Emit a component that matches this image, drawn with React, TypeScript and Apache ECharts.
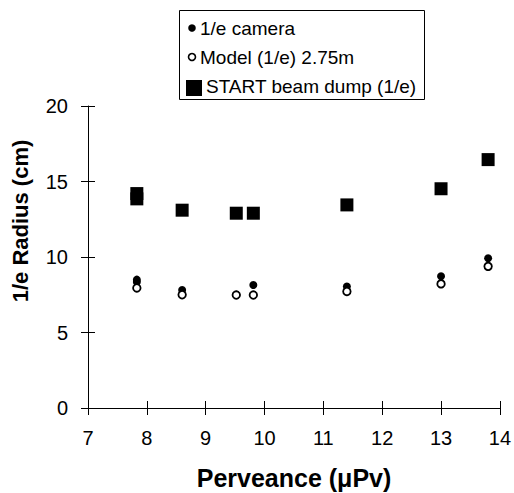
import React, { useEffect, useRef } from "react";
import * as echarts from "echarts";

const seriesNames = ["1/e camera", "Model (1/e) 2.75m", "START beam dump (1/e)"];

const cameraX = [7.83, 7.83, 8.6, 9.52, 9.81, 11.4, 13.0, 13.8];
const cameraY = [8.5, 8.35, 7.82, 7.5, 8.15, 8.05, 8.72, 9.92];

const modelX = [7.83, 8.6, 9.52, 9.81, 11.4, 13.0, 13.8];
const modelY = [7.95, 7.5, 7.48, 7.48, 7.72, 8.22, 9.38];

const startX = [7.83, 7.83, 8.6, 9.52, 9.81, 11.4, 13.0, 13.8];
const startY = [14.2, 13.85, 13.1, 12.9, 12.9, 13.45, 14.52, 16.45];

const xTitle = "Perveance (\u03bcPv)";
const yTitle = "1/e Radius (cm)";

const FONT = "Liberation Sans, Arial, Helvetica, sans-serif";

const zip = (xs: number[], ys: number[]) => xs.map((x, i) => [x, ys[i]]);

export default function App() {
  const ref = useRef<HTMLDivElement>(null);
  useEffect(() => {
    if (!ref.current) return;
    const chart = echarts.init(ref.current, null, { renderer: "svg" });
    const axisBase = {
      axisLine: { show: true, lineStyle: { color: "#000", width: 1 } },
      splitLine: { show: false },
    };
    chart.setOption({
      animation: false,
      backgroundColor: "#fff",
      grid: { left: 88, right: 14, top: 106, bottom: 85 },
      xAxis: [
        {
          type: "value",
          min: 7,
          max: 14,
          interval: 1,
          ...axisBase,
          axisTick: { show: true, inside: false, length: 7, lineStyle: { color: "#000" } },
          axisLabel: { color: "#000", fontSize: 20, fontFamily: FONT, margin: 20 },
        },
        {
          type: "value",
          min: 7,
          max: 14,
          interval: 1,
          position: "bottom",
          axisLine: { show: false },
          splitLine: { show: false },
          axisTick: { show: true, inside: true, length: 7, lineStyle: { color: "#000" } },
          axisLabel: { show: false },
        },
      ],
      yAxis: [
        {
          type: "value",
          min: 0,
          max: 20,
          interval: 5,
          ...axisBase,
          axisTick: { show: true, inside: false, length: 7, lineStyle: { color: "#000" } },
          axisLabel: { color: "#000", fontSize: 20, fontFamily: FONT, margin: 20 },
        },
        {
          type: "value",
          min: 0,
          max: 20,
          interval: 5,
          position: "left",
          axisLine: { show: false },
          splitLine: { show: false },
          axisTick: { show: true, inside: true, length: 7, lineStyle: { color: "#000" } },
          axisLabel: { show: false },
        },
      ],
      series: [
        {
          name: seriesNames[0],
          type: "scatter",
          data: zip(cameraX, cameraY),
          symbol: "circle",
          symbolSize: 8,
          itemStyle: { color: "#000", opacity: 1 },
          z: 2,
        },
        {
          name: seriesNames[1],
          type: "scatter",
          data: zip(modelX, modelY),
          symbol: "circle",
          symbolSize: 7.5,
          itemStyle: { color: "#fff", borderColor: "#000", borderWidth: 1.8, opacity: 1 },
          z: 3,
        },
        {
          name: seriesNames[2],
          type: "scatter",
          data: zip(startX, startY),
          symbol: "rect",
          symbolSize: 13,
          itemStyle: { color: "#000", opacity: 1 },
          z: 4,
        },
      ],
      graphic: [
        {
          type: "rect",
          shape: { x: 179.5, y: 10.5, width: 245, height: 89 },
          style: { fill: "#fff", stroke: "#000", lineWidth: 1 },
          z: 10,
        },
        {
          type: "circle",
          shape: { cx: 192, cy: 28, r: 3.8 },
          style: { fill: "#000" },
          z: 11,
        },
        {
          type: "circle",
          shape: { cx: 192, cy: 57, r: 3.5 },
          style: { fill: "#fff", stroke: "#000", lineWidth: 1.6 },
          z: 11,
        },
        {
          type: "rect",
          shape: { x: 186, y: 80, width: 16, height: 16 },
          style: { fill: "#000" },
          z: 11,
        },
        {
          type: "text",
          x: 200,
          y: 28,
          style: { text: seriesNames[0], font: `19px ${FONT}`, fill: "#000", verticalAlign: "middle" },
          z: 11,
        },
        {
          type: "text",
          x: 200,
          y: 57,
          style: { text: seriesNames[1], font: `19px ${FONT}`, fill: "#000", verticalAlign: "middle" },
          z: 11,
        },
        {
          type: "text",
          x: 206,
          y: 86,
          style: { text: seriesNames[2], font: `19px ${FONT}`, fill: "#000", verticalAlign: "middle" },
          z: 11,
        },
        {
          type: "text",
          x: 294,
          y: 478,
          style: {
            text: xTitle,
            font: `bold 25px ${FONT}`,
            fill: "#000",
            align: "center",
            verticalAlign: "middle",
          },
          z: 11,
        },
        {
          type: "text",
          x: 20,
          y: 221,
          rotation: Math.PI / 2,
          style: {
            text: yTitle,
            font: `bold 22px ${FONT}`,
            fill: "#000",
            align: "center",
            verticalAlign: "middle",
          },
          z: 11,
        },
      ],
    });
    return () => chart.dispose();
  }, []);
  return (
    <div
      ref={ref}
      style={{ position: "fixed", left: 0, top: 0, width: 514, height: 493, background: "#fff" }}
    />
  );
}
